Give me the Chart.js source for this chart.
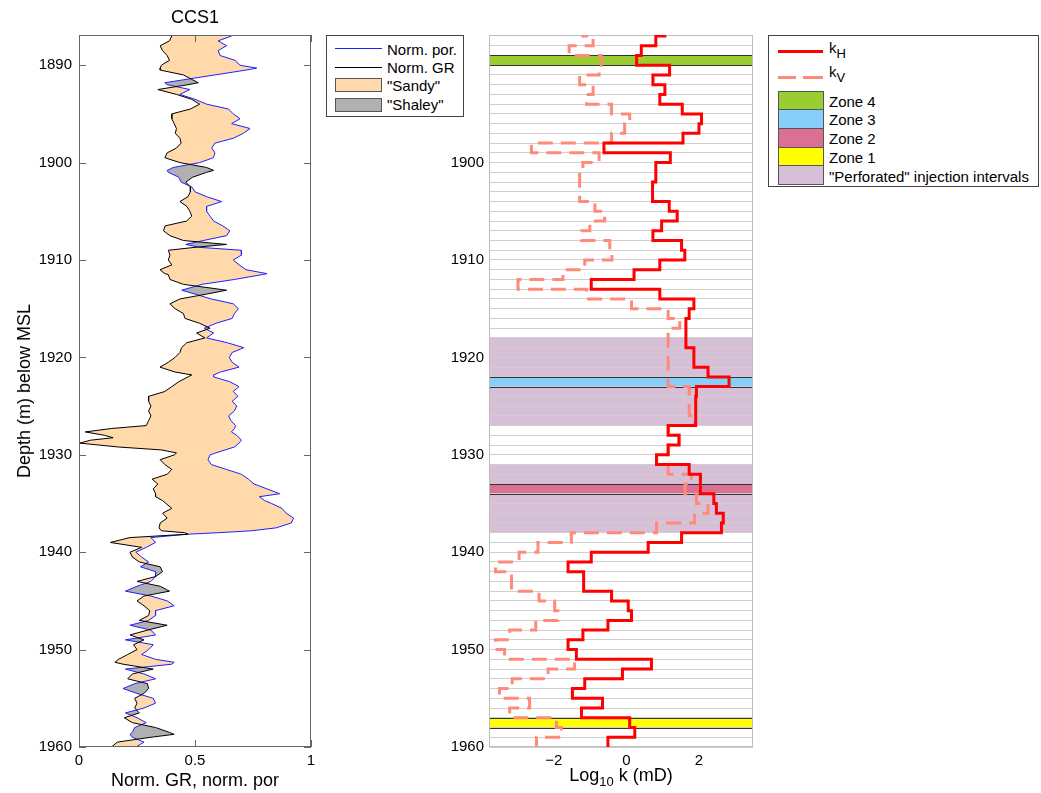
<!DOCTYPE html>
<html>
<head>
<meta charset="utf-8">
<title>CCS1 well log</title>
<script src="https://cdn.jsdelivr.net/npm/chart.js@4.4.1/dist/chart.umd.min.js"></script>
<style>
  body { margin: 0; background: #fff; font-family: 'Liberation Sans', Arial, Helvetica, sans-serif; color: #000; }
  #page { position: relative; width: 1041px; height: 793px; overflow: hidden; }
  canvas { position: absolute; top: 0; }
  .lbl { position: absolute; font-size: 15px; line-height: 15px; white-space: nowrap; }
  .ttl { position: absolute; font-size: 18px; line-height: 18px; white-space: nowrap; }
  .box { position: absolute; box-sizing: border-box; border: 1px solid #444; background: #fff; }
  .sw { position: absolute; box-sizing: border-box; border: 1px solid #555; }
  .ln { position: absolute; }
  sub { font-size: 13px; line-height: 0; vertical-align: -5px; }
</style>
</head>
<body>
<div id="page">
  <canvas id="logChart" width="330" height="793" style="left:0"></canvas>
  <canvas id="permChart" width="330" height="793" style="left:440px"></canvas>

  <!-- titles -->
  <div class="ttl" style="left:195px;top:8px;transform:translateX(-50%)">CCS1</div>
  <div class="ttl" style="left:24px;top:391px;transform:translate(-50%,-50%) rotate(-90deg)">Depth (m) below MSL</div>
  <div class="ttl" style="left:195px;top:771px;transform:translateX(-50%)">Norm. GR, norm. por</div>
  <div class="ttl" style="left:621px;top:766px;transform:translateX(-50%)">Log<sub>10</sub> k (mD)</div>

  <!-- left legend -->
  <div class="box" style="left:326px;top:35px;width:138px;height:82px"></div>
  <div class="ln" style="left:335px;top:48px;width:47px;border-top:1px solid #1f1fff"></div>
  <div class="lbl" style="left:387px;top:41.5px">Norm. por.</div>
  <div class="ln" style="left:335px;top:66.5px;width:47px;border-top:1px solid #000"></div>
  <div class="lbl" style="left:387px;top:60px">Norm. GR</div>
  <div class="sw" style="left:335px;top:78px;width:47px;height:14px;background:rgb(255,217,170)"></div>
  <div class="lbl" style="left:387px;top:78px">"Sandy"</div>
  <div class="sw" style="left:335px;top:97.5px;width:47px;height:14px;background:#b0b0b0"></div>
  <div class="lbl" style="left:387px;top:97px">"Shaley"</div>

  <!-- right legend -->
  <div class="box" style="left:768px;top:35px;width:271px;height:152px"></div>
  <div class="ln" style="left:778px;top:49.5px;width:45px;border-top:3px solid #ff0000"></div>
  <div class="lbl" style="left:829px;top:39.5px">k<sub>H</sub></div>
  <div class="ln" style="left:778px;top:75.5px;width:18px;border-top:3px solid #ff8a7a"></div>
  <div class="ln" style="left:803px;top:75.5px;width:20px;border-top:3px solid #ff8a7a"></div>
  <div class="lbl" style="left:829px;top:64px">k<sub>V</sub></div>
  <div class="sw" style="left:778px;top:90.7px;width:46px;height:19.6px;background:#9acd32"></div>
  <div class="lbl" style="left:829px;top:93.6px">Zone 4</div>
  <div class="sw" style="left:778px;top:109.3px;width:46px;height:19.6px;background:#87cefa"></div>
  <div class="lbl" style="left:829px;top:112.4px">Zone 3</div>
  <div class="sw" style="left:778px;top:128px;width:46px;height:19.6px;background:#db7093"></div>
  <div class="lbl" style="left:829px;top:131.4px">Zone 2</div>
  <div class="sw" style="left:778px;top:146.7px;width:46px;height:19.6px;background:#ffff00"></div>
  <div class="lbl" style="left:829px;top:150.2px">Zone 1</div>
  <div class="sw" style="left:778px;top:165.3px;width:46px;height:19.6px;background:#d8bfd8"></div>
  <div class="lbl" style="left:829px;top:168.8px">"Perforated" injection intervals</div>
</div>

<script>
// ── DATA: log curves (depth in m below MSL) ─────────────────
const depthM = [
  1886.5, 1887.0, 1887.5, 1888.0, 1888.5, 1889.0, 1889.5, 1890.0, 1890.3, 1890.5,
  1891.0, 1891.5, 1891.8, 1892.0, 1892.5, 1893.0, 1893.5, 1894.0, 1894.5, 1895.0,
  1895.5, 1896.0, 1896.5, 1897.0, 1897.5, 1898.0, 1898.5, 1899.0, 1899.5, 1900.0,
  1900.5, 1900.8, 1901.0, 1901.5, 1902.0, 1902.5, 1903.0, 1903.5, 1904.0, 1904.5,
  1905.0, 1905.5, 1906.0, 1906.5, 1907.0, 1907.5, 1908.0, 1908.4, 1908.7, 1909.0,
  1909.5, 1910.0, 1910.5, 1911.0, 1911.4, 1911.5, 1912.0, 1912.5, 1913.1, 1913.5,
  1914.0, 1914.5, 1915.0, 1915.5, 1916.0, 1916.5, 1917.0, 1917.5, 1918.0, 1918.5,
  1919.0, 1919.5, 1920.0, 1920.5, 1921.0, 1921.5, 1921.8, 1922.0, 1922.5, 1923.0,
  1923.5, 1924.0, 1924.5, 1925.0, 1925.5, 1926.0, 1926.5, 1927.0, 1927.3, 1927.65,
  1928.0, 1928.25, 1928.5, 1928.8, 1929.2, 1929.5, 1929.8, 1930.0, 1930.5, 1931.0,
  1931.5, 1932.0, 1932.5, 1933.0, 1933.5, 1934.0, 1934.3, 1934.7, 1935.0, 1935.5,
  1936.0, 1936.5, 1937.0, 1937.5, 1937.8, 1938.0, 1938.15, 1938.5, 1939.0, 1939.5,
  1940.0, 1940.5, 1941.0, 1941.5, 1942.0, 1942.5, 1943.0, 1943.5, 1944.0, 1944.5,
  1945.0, 1945.5, 1946.0, 1946.5, 1947.0, 1947.5, 1948.0, 1948.5, 1949.0, 1949.5,
  1950.0, 1950.5, 1951.0, 1951.3, 1951.5, 1952.0, 1952.5, 1953.0, 1953.5, 1954.0,
  1954.5, 1955.0, 1955.5, 1956.0, 1956.5, 1957.0, 1957.5, 1958.0, 1958.5, 1958.7,
  1959.0, 1959.5, 1960.0
];
const normGR = [
  0.40, 0.40, 0.39, 0.35, 0.36, 0.38, 0.39, 0.355, 0.35, 0.35,
  0.45, 0.49, 0.514, 0.47, 0.34, 0.42, 0.485, 0.52, 0.48, 0.40,
  0.40, 0.41, 0.42, 0.415, 0.435, 0.44, 0.42, 0.38, 0.37, 0.435,
  0.55, 0.58, 0.55, 0.49, 0.46, 0.48, 0.48, 0.47, 0.435, 0.465,
  0.478, 0.486, 0.464, 0.371, 0.364, 0.392, 0.45, 0.636, 0.50, 0.385,
  0.392, 0.385, 0.40, 0.349, 0.37, 0.385, 0.392, 0.45, 0.636, 0.55,
  0.435, 0.392, 0.414, 0.45, 0.457, 0.52, 0.565, 0.507, 0.543, 0.464,
  0.442, 0.435, 0.414, 0.385, 0.349, 0.414, 0.486, 0.47, 0.43, 0.40,
  0.37, 0.30, 0.30, 0.31, 0.30, 0.31, 0.30, 0.29, 0.14, 0.027,
  0.11, 0.147, 0.05, 0.003, 0.17, 0.355, 0.42, 0.412, 0.35, 0.37,
  0.40, 0.38, 0.315, 0.34, 0.32, 0.33, 0.33, 0.36, 0.375, 0.40,
  0.36, 0.38, 0.35, 0.345, 0.355, 0.455, 0.47, 0.22, 0.135, 0.27,
  0.22, 0.23, 0.26, 0.35, 0.36, 0.33, 0.25, 0.35, 0.39, 0.28,
  0.25, 0.28, 0.305, 0.30, 0.26, 0.38, 0.295, 0.22, 0.28, 0.235,
  0.25, 0.21, 0.17, 0.155, 0.19, 0.32, 0.23, 0.21, 0.295, 0.30,
  0.28, 0.24, 0.25, 0.24, 0.26, 0.195, 0.23, 0.33, 0.39, 0.41,
  0.31, 0.165, 0.14
];
const normPor = [
  0.66, 0.658, 0.60, 0.636, 0.60, 0.608, 0.672, 0.694, 0.766, 0.72,
  0.586, 0.45, 0.37, 0.38, 0.478, 0.435, 0.50, 0.55, 0.644, 0.665,
  0.694, 0.658, 0.737, 0.708, 0.665, 0.586, 0.572, 0.586, 0.579, 0.52,
  0.406, 0.38, 0.385, 0.43, 0.44, 0.486, 0.50, 0.55, 0.615, 0.55,
  0.55, 0.565, 0.58, 0.62, 0.65, 0.636, 0.536, 0.46, 0.52, 0.70,
  0.70, 0.665, 0.69, 0.72, 0.81, 0.79, 0.67, 0.53, 0.443, 0.50,
  0.57, 0.665, 0.687, 0.67, 0.66, 0.59, 0.54, 0.58, 0.55, 0.64,
  0.71, 0.66, 0.648, 0.66, 0.69, 0.61, 0.58, 0.58, 0.65, 0.69,
  0.665, 0.685, 0.66, 0.68, 0.67, 0.645, 0.655, 0.675, 0.67, 0.657,
  0.68, 0.69, 0.70, 0.69, 0.67, 0.63, 0.59, 0.565, 0.556, 0.57,
  0.635, 0.70, 0.73, 0.755, 0.81, 0.865, 0.778, 0.80, 0.83, 0.875,
  0.893, 0.925, 0.915, 0.85, 0.743, 0.60, 0.47, 0.31, 0.33, 0.29,
  0.245, 0.27, 0.30, 0.265, 0.33, 0.33, 0.31, 0.25, 0.20, 0.31,
  0.38, 0.41, 0.33, 0.33, 0.30, 0.22, 0.31, 0.33, 0.20, 0.32,
  0.30, 0.27, 0.33, 0.41, 0.40, 0.20, 0.28, 0.33, 0.24, 0.19,
  0.25, 0.32, 0.33, 0.28, 0.20, 0.25, 0.29, 0.24, 0.23, 0.22,
  0.23, 0.28, 0.245
];

// ── DATA: permeability layers (log10 mD, one value per 1 m layer) ──
const layerBounds = [
  1886, 1887, 1888, 1889, 1890, 1891, 1892, 1893, 1894, 1895, 1896, 1897, 1898, 1899, 1900,
  1901, 1902, 1903, 1904, 1905, 1906, 1907, 1908, 1909, 1910, 1911, 1912, 1913, 1914, 1915,
  1916, 1917, 1918, 1919, 1920, 1921, 1922, 1923, 1924, 1925, 1926, 1927, 1928, 1929, 1930,
  1931, 1932, 1933, 1934, 1935, 1936, 1937, 1938, 1939, 1940, 1941, 1942, 1943, 1944, 1945,
  1946, 1947, 1948, 1949, 1950, 1951, 1952, 1953, 1954, 1955, 1956, 1957, 1958, 1959, 1960
];
const kH = [
  1.06, 0.81, 0.41, 0.28, 1.19, 0.73, 1.06, 0.92, 1.54, 2.07, 2.00, 1.56, -0.62, 1.21,
  0.81, 0.81, 0.72, 0.72, 1.18, 1.40, 0.97, 0.73, 1.52, 1.61, 0.92, 0.21, -0.97, 0.92,
  1.86, 1.73, 1.64, 1.64, 1.64, 1.86, 1.86, 2.25, 2.83, 1.93, 1.91, 1.91, 1.91, 1.15,
  1.45, 1.15, 0.83, 1.73, 2.04, 2.04, 2.41, 2.48, 2.67, 2.62, 1.52, 0.60, -0.97, -1.61,
  -1.18, -1.18, -0.41, 0.05, 0.14, -0.51, -1.20, -1.61, -1.38, 0.69, -0.11, -1.15, -1.49,
  -0.66, -1.24, 0.09, 0.23, -0.51
];
const kV = [
  -1.20, -0.92, -1.58, -0.69, -0.755, -1.29, -0.92, -1.10, -0.41, 0.09, -0.05, -0.41, -2.62, -0.755,
  -1.20, -1.29, -1.29, -1.29, -0.87, -0.60, -1.01, -1.24, -0.46, -0.40, -1.15, -1.75, -2.99, -1.10,
  0.14, 1.15, 1.47, 1.15, 1.15, 1.15, 1.15, 1.15, 1.15, 1.73, 1.73, 1.73, 1.88, 1.15,
  1.45, 1.15, 0.83, 1.15, 1.79, 1.61, 1.93, 2.25, 1.88, 0.83, -1.52, -2.44, -2.96, -3.61,
  -3.17, -3.17, -2.41, -1.98, -1.89, -2.50, -3.22, -3.61, -3.36, -1.43, -2.16, -3.15, -3.50,
  -2.67, -3.22, -1.93, -1.79, -2.48
];

// ── DATA: zones and perforated intervals ────────────────────
const zoneNames = ['Zone 4', 'Zone 3', 'Zone 2', 'Zone 1'];
const zoneTop   = [1889, 1922, 1933, 1957];
const zoneBase  = [1890, 1923, 1934, 1958];
const perfTop   = [1918, 1931];
const perfBase  = [1927, 1938];

// ── DATA: ticks ─────────────────────────────────────────────
const depthTicks     = [1890, 1900, 1910, 1920, 1930, 1940, 1950, 1960];
const permDepthLabels = [1900, 1910, 1920, 1930, 1940, 1950, 1960];
const porTicks       = [0, 0.5, 1];
const kTicks         = [-2, 0, 2];

// ── STYLE ───────────────────────────────────────────────────
const FONT = { family: "'Liberation Sans', Arial, Helvetica, sans-serif", size: 15 };
const SAND = 'rgb(255,217,170)';
const SHALE = '#b0b0b0';
const ZONE_COLOURS = ['#9acd32', '#87cefa', '#db7093', '#ffff00'];
const PERF_COLOUR = '#d8bfd8';
const DEPTH_MIN = 1886.9, DEPTH_MAX = 1960;

Chart.defaults.font.family = FONT.family;

// ── PLUGINS ─────────────────────────────────────────────────
// fill between GR and porosity: sand where por > GR, shale otherwise
const sandShaleFill = {
  id: 'sandShaleFill',
  beforeDatasetsDraw(chart) {
    const { ctx, chartArea: a, scales: { x, y } } = chart;
    const px = v => x.getPixelForValue(v), py = d => y.getPixelForValue(d);
    const sand = new Path2D(), shale = new Path2D();
    const poly = (path, pts) => {
      path.moveTo(pts[0][0], pts[0][1]);
      for (let k = 1; k < pts.length; k++) path.lineTo(pts[k][0], pts[k][1]);
      path.closePath();
    };
    for (let i = 0; i < depthM.length - 1; i++) {
      const d0 = normPor[i] - normGR[i], d1 = normPor[i + 1] - normGR[i + 1];
      const A = [px(normGR[i]), py(depthM[i])], B = [px(normPor[i]), py(depthM[i])];
      const C = [px(normPor[i + 1]), py(depthM[i + 1])], D = [px(normGR[i + 1]), py(depthM[i + 1])];
      if (d0 * d1 >= 0) {
        poly((d0 + d1) >= 0 ? sand : shale, [A, B, C, D]);
      } else {
        const t = d0 / (d0 - d1);
        const M = [px(normGR[i] + t * (normGR[i + 1] - normGR[i])), py(depthM[i] + t * (depthM[i + 1] - depthM[i]))];
        poly(d0 > 0 ? sand : shale, [A, B, M]);
        poly(d1 > 0 ? sand : shale, [M, C, D]);
      }
    }
    ctx.save();
    ctx.beginPath(); ctx.rect(a.left, a.top, a.width, a.height); ctx.clip();
    ctx.fillStyle = SAND; ctx.fill(sand);
    ctx.fillStyle = SHALE; ctx.fill(shale);
    ctx.restore();
  }
};

// box with inward ticks on all four sides
const matlabBox = {
  id: 'matlabBox',
  afterDraw(chart) {
    const { ctx, chartArea: a, scales: { x, y } } = chart;
    ctx.save();
    ctx.strokeStyle = '#666';
    ctx.lineWidth = 1;
    ctx.strokeRect(Math.round(a.left) + 0.5, Math.round(a.top) + 0.5, Math.round(a.width) - 1, Math.round(a.height) - 1);
    ctx.beginPath();
    y.ticks.forEach(t => {
      const p = Math.round(y.getPixelForValue(t.value)) + 0.5;
      ctx.moveTo(a.left, p); ctx.lineTo(a.left + 7, p);
      ctx.moveTo(a.right, p); ctx.lineTo(a.right - 7, p);
    });
    x.ticks.forEach(t => {
      const p = Math.round(x.getPixelForValue(t.value)) + 0.5;
      ctx.moveTo(p, a.bottom); ctx.lineTo(p, a.bottom - 7);
      ctx.moveTo(p, a.top); ctx.lineTo(p, a.top + 7);
    });
    ctx.stroke();
    ctx.restore();
  }
};

// perforated intervals + zones under the grid, zone edges and frame above it
const zoneBands = {
  id: 'zoneBands',
  beforeDraw(chart) {
    const { ctx, chartArea: a, scales: { y } } = chart;
    const band = (t, b, col) => {
      const y0 = y.getPixelForValue(t), y1 = y.getPixelForValue(b);
      ctx.fillStyle = col;
      ctx.fillRect(a.left, y0, a.width, y1 - y0);
    };
    ctx.save();
    perfTop.forEach((t, i) => band(t, perfBase[i], PERF_COLOUR));
    zoneTop.forEach((t, i) => band(t, zoneBase[i], ZONE_COLOURS[i]));
    ctx.restore();
  },
  beforeDatasetsDraw(chart) {
    const { ctx, chartArea: a, scales: { y } } = chart;
    ctx.save();
    ctx.strokeStyle = '#333';
    ctx.lineWidth = 1;
    ctx.beginPath();
    zoneTop.forEach((t, i) => {
      [t, zoneBase[i]].forEach(d => {
        const p = Math.round(y.getPixelForValue(d)) + 0.5;
        ctx.moveTo(a.left, p); ctx.lineTo(a.right, p);
      });
    });
    ctx.stroke();
    ctx.strokeStyle = '#bdbdbd';
    ctx.strokeRect(Math.round(a.left) + 0.5, Math.round(a.top) + 0.5, Math.round(a.width) - 1, Math.round(a.height) - 1);
    ctx.restore();
  }
};

// ── HELPERS ─────────────────────────────────────────────────
function stepPoints(vals) {
  const pts = [];
  vals.forEach((v, i) => {
    pts.push({ x: v, y: layerBounds[i] }, { x: v, y: layerBounds[i + 1] });
  });
  return pts;
}

function fixTicks(values) {
  return scale => { scale.ticks = values.map(v => ({ value: v })); };
}

const hidden = { display: false, drawTicks: false };

// ── LEFT: GR / porosity log ─────────────────────────────────
new Chart(document.getElementById('logChart'), {
  type: 'scatter',
  data: {
    datasets: [
      { label: 'Norm. GR', data: depthM.map((d, i) => ({ x: normGR[i], y: d })),
        showLine: true, borderColor: '#000', borderWidth: 1, pointRadius: 0, clip: 0, order: 0 },
      { label: 'Norm. por.', data: depthM.map((d, i) => ({ x: normPor[i], y: d })),
        showLine: true, borderColor: '#1f1fff', borderWidth: 1, pointRadius: 0, clip: 0, order: 1 }
    ]
  },
  options: {
    responsive: false,
    animation: false,
    events: [],
    layout: { padding: { top: 35, right: 19, left: 0, bottom: 0 } },
    plugins: { legend: { display: false }, tooltip: { enabled: false } },
    scales: {
      x: {
        type: 'linear', min: 0, max: 1,
        afterBuildTicks: fixTicks(porTicks),
        afterFit: s => { s.height = 46; },
        grid: hidden, border: { display: false },
        ticks: { font: FONT, color: '#000', padding: 5, maxRotation: 0, callback: v => String(v) }
      },
      y: {
        type: 'linear', reverse: true, min: DEPTH_MIN, max: DEPTH_MAX,
        afterBuildTicks: fixTicks(depthTicks),
        afterFit: s => { s.width = 79; },
        grid: hidden, border: { display: false },
        ticks: { font: FONT, color: '#000', padding: 7, callback: v => String(v) }
      }
    }
  },
  plugins: [sandShaleFill, matlabBox]
});

// ── RIGHT: permeability profile ─────────────────────────────
new Chart(document.getElementById('permChart'), {
  type: 'scatter',
  data: {
    datasets: [
      { label: 'kH', data: stepPoints(kH), showLine: true, borderColor: '#ff0000', borderWidth: 3,
        borderJoinStyle: 'miter', pointRadius: 0, clip: 0, order: 0 },
      { label: 'kV', data: stepPoints(kV), showLine: true, borderColor: '#ff8a7a', borderWidth: 3,
        borderDash: [15, 8], borderJoinStyle: 'miter', pointRadius: 0, clip: 0, order: 1 }
    ]
  },
  options: {
    responsive: false,
    animation: false,
    events: [],
    layout: { padding: { top: 35, right: 17, left: 0, bottom: 0 } },
    plugins: { legend: { display: false }, tooltip: { enabled: false } },
    scales: {
      x: {
        type: 'linear', min: -3.79, max: 3.49,
        afterBuildTicks: fixTicks(kTicks),
        afterFit: s => { s.height = 46; },
        grid: hidden, border: { display: false },
        ticks: { font: FONT, color: '#000', padding: 5, maxRotation: 0,
                 callback: v => (v < 0 ? '\u2212' + Math.abs(v) : String(v)) }
      },
      y: {
        type: 'linear', reverse: true, min: DEPTH_MIN, max: DEPTH_MAX,
        afterBuildTicks: fixTicks(layerBounds.filter(d => d >= DEPTH_MIN)),
        afterFit: s => { s.width = 49; },
        grid: { display: true, drawTicks: false, color: '#cfcfcf', lineWidth: 1 },
        border: { display: false },
        ticks: { font: FONT, color: '#000', padding: 5, autoSkip: false,
                 callback: v => (permDepthLabels.includes(v) ? String(v) : '') }
      }
    }
  },
  plugins: [zoneBands]
});
</script>
</body>
</html>
